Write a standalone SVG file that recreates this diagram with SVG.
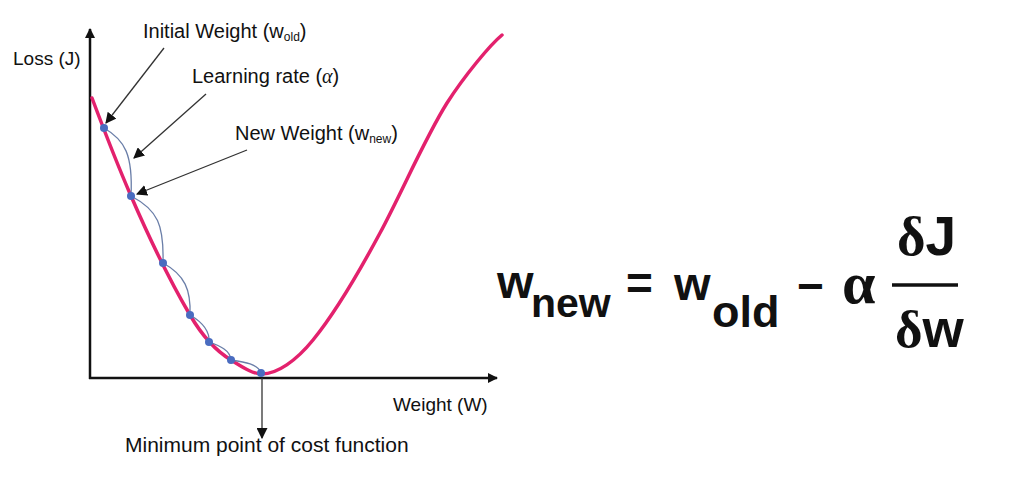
<svg xmlns="http://www.w3.org/2000/svg" width="1014" height="483" viewBox="0 0 1014 483">
<defs>
<style>
.lbl{font-family:"Liberation Sans","DejaVu Sans",sans-serif;fill:#111;}
.eq{font-family:"Liberation Sans","DejaVu Sans",sans-serif;fill:#111;font-weight:bold;}
.ser{font-family:"Liberation Serif","DejaVu Serif",serif;fill:#111;}
.axis{stroke:#111;stroke-width:2.5;fill:none;}
.ptr{stroke:#333;stroke-width:1.3;fill:none;}
.step{stroke:#6a7ea8;stroke-width:1.3;fill:none;}
.dot{fill:#4a6cc0;}
</style>
<marker id="ah" viewBox="0 0 10 10" refX="9" refY="5" markerWidth="10" markerHeight="10" markerUnits="userSpaceOnUse" orient="auto">
<path d="M0,0 L10,5 L0,10 Z" fill="#111"/>
</marker>
<marker id="ahs" viewBox="0 0 10 10" refX="9" refY="5" markerWidth="11" markerHeight="11" markerUnits="userSpaceOnUse" orient="auto">
<path d="M0,0 L10,5 L0,10 Z" fill="#111"/>
</marker>
</defs>
<rect width="1014" height="483" fill="#fff"/>

<g id="axes">
<line class="axis" x1="90" y1="379" x2="90" y2="29" marker-end="url(#ah)"/>
<line class="axis" x1="89" y1="378" x2="497" y2="378" marker-end="url(#ah)"/>
<text class="lbl" x="13" y="65" font-size="19">Loss (J)</text>
<text class="lbl" x="393" y="411" font-size="19">Weight (W)</text>
</g>

<g id="cost-curve">
<path d="M92,98 C104,130 118,166 131,196 C151,242 170,281 190,315 C204,339 217,351.5 231,360 C241,366 252,374 262,374 C277,374 296,361 313,340 C335,313 358,274 380,233 C402,192 425,138 447,103 C465,75 490,45 502,35" fill="none" stroke="#e3216d" stroke-width="3.5" stroke-linecap="round"/>
</g>

<g id="steps">
<path class="step" d="M104,128 C125,140 133,155 131,196"/>
<path class="step" d="M131,196 C158,210 164,225 163,263"/>
<path class="step" d="M163,263 C185,275 191,290 190,315"/>
<path class="step" d="M190,315 C202,322 210,330 209,342"/>
<path class="step" d="M209,342 C220,346 230,350 231,360"/>
<path class="step" d="M231,360 C245,362 258,364 261,373"/>
</g>

<g id="points">
<circle class="dot" cx="104" cy="128" r="4"/>
<circle class="dot" cx="131" cy="196" r="4"/>
<circle class="dot" cx="163" cy="263" r="4"/>
<circle class="dot" cx="190" cy="315" r="4"/>
<circle class="dot" cx="209" cy="342" r="4"/>
<circle class="dot" cx="231" cy="360" r="4"/>
<circle class="dot" cx="261" cy="373" r="4"/>
</g>

<g id="connectors">
<line class="ptr" x1="164" y1="48" x2="106" y2="123" marker-end="url(#ahs)"/>
<line class="ptr" x1="206" y1="94" x2="134" y2="158" marker-end="url(#ahs)"/>
<line class="ptr" x1="247" y1="150" x2="137" y2="194" marker-end="url(#ahs)"/>
<line class="ptr" x1="262" y1="378" x2="262" y2="438" marker-end="url(#ahs)"/>
</g>

<g id="label-initial">
<text class="lbl" x="143" y="38" font-size="20">Initial Weight (w<tspan font-size="12" dy="3">old</tspan><tspan dy="-3">)</tspan></text>
</g>
<g id="label-rate">
<text class="lbl" x="192" y="83" font-size="20">Learning rate (<tspan class="ser" font-style="italic">α</tspan>)</text>
</g>
<g id="label-new">
<text class="lbl" x="235" y="140" font-size="20">New Weight (w<tspan font-size="12" dy="3">new</tspan><tspan dy="-3">)</tspan></text>
</g>
<g id="label-min">
<text class="lbl" x="125" y="452" font-size="21">Minimum point of cost function</text>
</g>

<g id="equation">
<text class="eq" x="497" y="298" font-size="47">w</text>
<text class="eq" x="531" y="317" font-size="41">new</text>
<text class="eq" x="626" y="299" font-size="46">=</text>
<text class="eq" x="674" y="300" font-size="47">w</text>
<text class="eq" x="712" y="327" font-size="45">old</text>
<text class="eq" x="797" y="302" font-size="46">−</text>
<text class="ser" x="842" y="303" font-size="60" font-weight="bold">α</text>
<line x1="892" y1="285" x2="958" y2="285" stroke="#111" stroke-width="3.5"/>
<text x="897" y="255" font-size="55"><tspan class="ser" font-weight="bold">δ</tspan><tspan class="eq">J</tspan></text>
<text x="895" y="347" font-size="53"><tspan class="ser" font-weight="bold">δ</tspan><tspan class="eq">w</tspan></text>
</g>
</svg>
